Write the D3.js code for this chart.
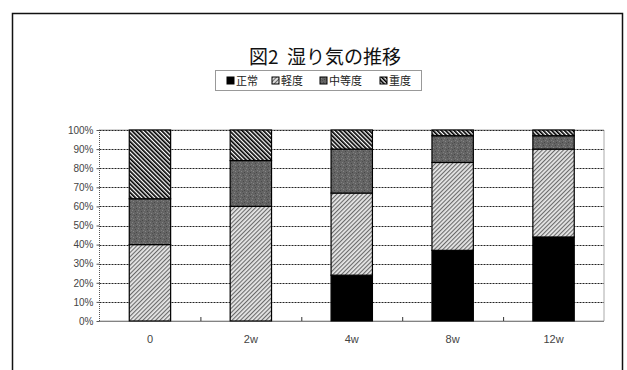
<!DOCTYPE html>
<html>
<head>
<meta charset="utf-8">
<script src="https://cdn.jsdelivr.net/npm/d3@7"></script>
<style>
  html, body { margin: 0; padding: 0; background: #fff; }
  svg { display: block; }
</style>
</head>
<body>
<svg id="chart" width="627" height="370"></svg>
<script>
// Humidity grade composition over the observation period (percent of cases)
const categories = ["0", "2w", "4w", "8w", "12w"];
const seriesNames = ["正常", "軽度", "中等度", "重度"];
const normal   = [0, 0, 24, 37, 44];
const mild     = [40, 60, 43, 46, 46];
const moderate = [24, 24, 23, 14, 7];
const severe   = [36, 16, 10, 3, 3];
const yTicks = [0, 10, 20, 30, 40, 50, 60, 70, 80, 90, 100];
const titleText = "図2  湿り気の推移";

const svg = d3.select("#chart");
const font = "'Noto Sans CJK JP', 'Noto Sans', sans-serif";

// Fill patterns
const defs = svg.append("defs");
// severe: dense black back-slash hatching
const pSevere = defs.append("pattern").attr("id", "p-severe")
  .attr("patternUnits", "userSpaceOnUse").attr("width", 3).attr("height", 3)
  .attr("patternTransform", "rotate(-45)");
pSevere.append("rect").attr("width", 3).attr("height", 3).attr("fill", "#fff");
pSevere.append("rect").attr("x", 0).attr("width", 1.7).attr("height", 3).attr("fill", "#000");

// mild: fine grey forward-slash hatching
const pMild = defs.append("pattern").attr("id", "p-mild")
  .attr("patternUnits", "userSpaceOnUse").attr("width", 3).attr("height", 3)
  .attr("patternTransform", "rotate(45)");
pMild.append("rect").attr("width", 3).attr("height", 3).attr("fill", "#e6e6e6");
pMild.append("rect").attr("x", 0).attr("width", 1.1).attr("height", 3).attr("fill", "#6a6a6a");

// moderate: mottled dark grey
const pMod = defs.append("pattern").attr("id", "p-mod")
  .attr("patternUnits", "userSpaceOnUse").attr("width", 6).attr("height", 6);
pMod.append("rect").attr("width", 6).attr("height", 6).attr("fill", "#646464");
[[0,0,"#828282"],[3,1,"#4a4a4a"],[1,3,"#858585"],[4,4,"#474747"],[5,2,"#7e7e7e"],[2,5,"#505050"]]
  .forEach(([px, py, c]) => pMod.append("rect").attr("x", px).attr("y", py)
    .attr("width", 1).attr("height", 1).attr("fill", c));

const fills = ["#000", "url(#p-mild)", "url(#p-mod)", "url(#p-severe)"];

// Outer chart frame (open at the bottom)
svg.append("path")
  .attr("d", "M12.5,370 L12.5,13.5 L622.5,13.5 L622.5,370")
  .attr("fill", "none").attr("stroke", "#111").attr("stroke-width", 1.5);

// Title
svg.append("text")
  .attr("x", 325).attr("y", 64)
  .attr("text-anchor", "middle")
  .attr("font-family", font).attr("font-size", 19)
  .attr("fill", "#111")
  .style("white-space", "pre")
  .text(titleText);

// Legend
const legend = svg.append("g");
legend.append("rect")
  .attr("x", 215.5).attr("y", 70.5).attr("width", 206).attr("height", 20)
  .attr("fill", "#fff").attr("stroke", "#333").attr("stroke-dasharray", "1,1");
const legendX = [227, 272, 320, 380];
seriesNames.forEach((name, i) => {
  const g = legend.append("g").attr("transform", `translate(${legendX[i]},81)`);
  g.append("rect").attr("x", 0).attr("y", -4).attr("width", 7).attr("height", 7)
    .attr("fill", fills[i]).attr("stroke", "#000").attr("stroke-width", 1);
  g.append("text").attr("x", 9).attr("y", 4)
    .attr("font-family", font).attr("font-size", 11).attr("fill", "#222")
    .text(name);
});

// Scales
const plot = { left: 99.5, right: 604, top: 130, bottom: 321 };
const x = d3.scaleBand().domain(categories)
  .range([plot.left, plot.right])
  .paddingInner(0.59).paddingOuter(0.295);
const y = d3.scaleLinear().domain([0, 100]).range([plot.bottom, plot.top]);

// Plot area border
svg.append("rect")
  .attr("x", plot.left).attr("y", plot.top)
  .attr("width", plot.right - plot.left).attr("height", plot.bottom - plot.top)
  .attr("fill", "#fff").attr("stroke", "#555").attr("stroke-dasharray", "1,1");

// Gridlines
svg.append("g").selectAll("line").data(yTicks.filter(t => t > 0))
  .join("line")
  .attr("x1", plot.left).attr("x2", plot.right)
  .attr("y1", d => Math.round(y(d)) + 0.5).attr("y2", d => Math.round(y(d)) + 0.5)
  .attr("stroke", "#222").attr("stroke-width", 1).attr("stroke-dasharray", "2,1");

// Y axis labels
const yAxis = d3.axisLeft(y).tickValues(yTicks).tickFormat(d => d + "%").tickSize(3);
const yg = svg.append("g").attr("transform", `translate(${plot.left},0)`).call(yAxis);
yg.select(".domain").remove();
yg.selectAll(".tick line").attr("stroke", "#555");
yg.selectAll("text").attr("font-family", "'Liberation Sans', Arial, sans-serif")
  .attr("font-size", 10).attr("fill", "#444").attr("x", -6);

// X axis: labels under each category, tick marks between categories
const xAxis = d3.axisBottom(x).tickSize(0).tickPadding(14);
const xg = svg.append("g").attr("transform", `translate(0,${plot.bottom})`).call(xAxis);
xg.select(".domain").remove();
xg.selectAll("text").attr("font-family", "'Liberation Sans', Arial, sans-serif")
  .attr("font-size", 11).attr("fill", "#444");
svg.append("g").selectAll("line").data(categories.slice(1))
  .join("line")
  .attr("x1", c => x(c) - (x.step() - x.bandwidth()) / 2 + 0.5)
  .attr("x2", c => x(c) - (x.step() - x.bandwidth()) / 2 + 0.5)
  .attr("y1", plot.bottom).attr("y2", plot.bottom - 4)
  .attr("stroke", "#333");

// Stacked bars
const rows = categories.map((c, i) => ({
  cat: c, "正常": normal[i], "軽度": mild[i], "中等度": moderate[i], "重度": severe[i]
}));
const stacked = d3.stack().keys(seriesNames)(rows);
const barsG = svg.append("g");
stacked.forEach((layer, si) => {
  barsG.append("g").selectAll("rect").data(layer.filter(d => d[1] > d[0]))
    .join("rect")
    .attr("x", d => x(d.data.cat))
    .attr("width", x.bandwidth())
    .attr("y", d => y(d[1]))
    .attr("height", d => y(d[0]) - y(d[1]))
    .attr("fill", fills[si])
    .attr("stroke", "#000").attr("stroke-width", 1.2);
});

// Bottom axis line
svg.append("line")
  .attr("x1", plot.left).attr("x2", plot.right)
  .attr("y1", plot.bottom + 0.5).attr("y2", plot.bottom + 0.5)
  .attr("stroke", "#333").attr("stroke-dasharray", "1,1");
</script>
</body>
</html>
